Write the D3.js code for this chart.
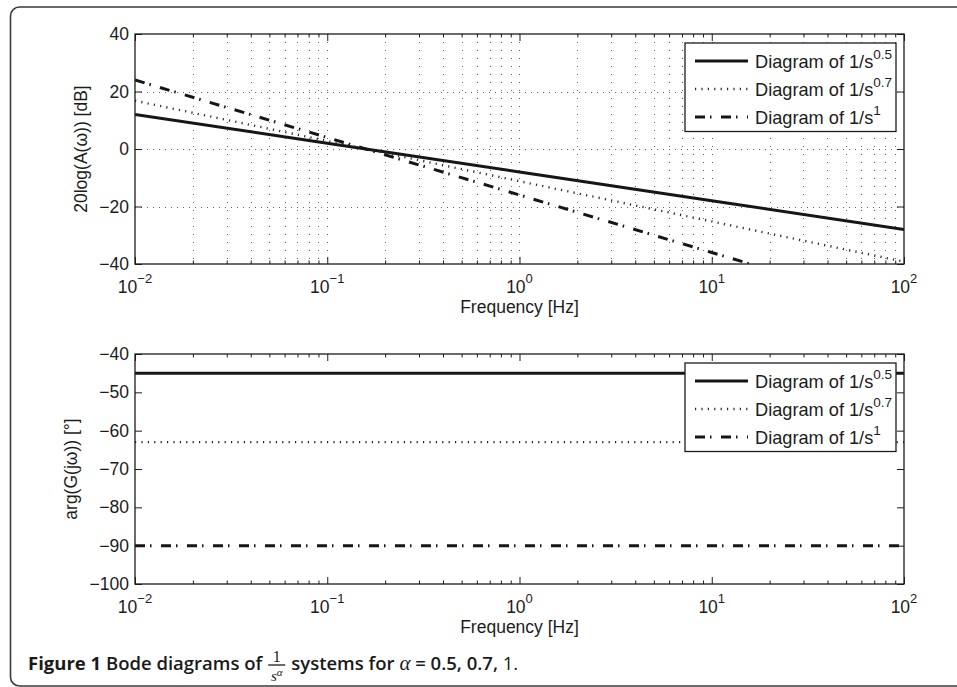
<!DOCTYPE html>
<html>
<head>
<meta charset="utf-8">
<script src="https://cdn.jsdelivr.net/npm/d3@7"></script>
<style>
  html, body { margin: 0; padding: 0; background: #fff; }
  svg { display: block; }
  text { white-space: pre; }
</style>
</head>
<body>
<div id="chart"></div>
<script>
// Frequency samples (Hz), one per decade
const freqHz = [0.01, 0.1, 1, 10, 100];
// Magnitude in dB for 1/s^0.5, 1/s^0.7 and 1/s^1
const magHalf  = [12, 2, -8, -18, -28];
const magSeven = [16.8, 2.8, -11.2, -25.2, -39.2];
const magOne   = [24, 4, -16, -36, -56];
// Phase in degrees (flat over the whole band)
const phaseFreq  = [0.01, 100];
const phaseHalf  = [-45, -45];
const phaseSeven = [-63, -63];
const phaseOne   = [-90, -90];
// Tick values
const xMajor = [0.01, 0.1, 1, 10, 100];
const xExp = ["\u22122", "\u22121", "0", "1", "2"];
const magTicks = [-40, -20, 0, 20, 40];
const phaseTicks = [-100, -90, -80, -70, -60, -50, -40];
const seriesNames = ["0.5", "0.7", "1"];

const W = 957, H = 687;
const svg = d3.select("#chart").append("svg").attr("width", W).attr("height", H);
svg.append("rect").attr("width", W).attr("height", H).attr("fill", "#fff");

// outer rounded frame (open to the right)
svg.append("rect").attr("x", 10.5).attr("y", 7).attr("width", 1000).attr("height", 679)
  .attr("rx", 9).attr("fill", "none").attr("stroke", "#3a3a3a").attr("stroke-width", 1.6);

const FONT = '"Liberation Sans", Arial, Helvetica, sans-serif';
const INK = "#1c1c1c";
const FS = 17.5;
const left = 135, right = 904;

const x = d3.scaleLog().domain([0.01, 100]).range([left, right]);
const xMinor = [];
for (let e = -2; e < 2; e++) for (let k = 2; k <= 9; k++) xMinor.push(k * Math.pow(10, e));

const styles = [
  { width: 3, dash: null, color: "#161616" },
  { width: 2.4, dash: "1.2,5.2", color: "#2a2a2a" },
  { width: 3, dash: "10,5,1.5,9.5", color: "#161616" }
];

function fmt(v) { return v < 0 ? "\u2212" + Math.abs(v) : String(v); }

function panel(cfg) {
  const { top, bottom, yDomain, yTicks, grid, series, xs, legendTop, yLabel, yLabelX } = cfg;
  const y = d3.scaleLinear().domain(yDomain).range([bottom, top]);
  const g = svg.append("g");
  const clipId = "clip" + top;
  svg.append("clipPath").attr("id", clipId).append("rect")
    .attr("x", left).attr("y", top).attr("width", right - left).attr("height", bottom - top);

  if (grid) {
    const gg = g.append("g").attr("stroke", "#666").attr("stroke-width", 1);
    gg.selectAll("line.v").data(xMinor.concat([0.1, 1, 10])).join("line")
      .attr("x1", d => Math.round(x(d)) + 0.5).attr("x2", d => Math.round(x(d)) + 0.5)
      .attr("y1", top).attr("y2", bottom).attr("stroke-dasharray", "1,7");
    gg.selectAll("line.h").data(yTicks.slice(1, -1)).join("line")
      .attr("x1", left).attr("x2", right)
      .attr("y1", d => Math.round(y(d)) + 0.5).attr("y2", d => Math.round(y(d)) + 0.5)
      .attr("stroke-dasharray", "1,5");
  }

  // ticks pointing inward on all four sides
  const tickStyle = sel => { sel.select(".domain").remove(); sel.selectAll("line").attr("stroke", INK); };
  g.append("g").attr("transform", `translate(0,${bottom})`)
    .call(d3.axisBottom(x).tickValues(xMajor).tickSize(-7).tickFormat(""))
    .call(tickStyle);
  g.append("g").attr("transform", `translate(0,${bottom})`)
    .call(d3.axisBottom(x).tickValues(xMinor).tickSize(-3.5).tickFormat(""))
    .call(tickStyle);
  g.append("g").attr("transform", `translate(0,${top})`)
    .call(d3.axisTop(x).tickValues(xMajor).tickSize(-7).tickFormat(""))
    .call(tickStyle);
  g.append("g").attr("transform", `translate(0,${top})`)
    .call(d3.axisTop(x).tickValues(xMinor).tickSize(-3.5).tickFormat(""))
    .call(tickStyle);
  g.append("g").attr("transform", `translate(${left},0)`)
    .call(d3.axisLeft(y).tickValues(yTicks).tickSize(-7).tickPadding(6).tickFormat(fmt))
    .call(tickStyle)
    .call(s => s.selectAll("text").attr("font-size", FS).attr("font-family", FONT).attr("fill", INK));
  g.append("g").attr("transform", `translate(${right},0)`)
    .call(d3.axisRight(y).tickValues(yTicks).tickSize(-7).tickFormat(""))
    .call(tickStyle);

  // x tick labels as powers of ten
  const xl = g.append("g");
  xMajor.forEach((d, i) => {
    const t = xl.append("text").attr("x", x(d)).attr("y", bottom + 29)
      .attr("text-anchor", "middle").attr("font-size", FS).attr("font-family", FONT).attr("fill", INK);
    t.append("tspan").text("10");
    t.append("tspan").attr("dy", -10).attr("font-size", 13).text(xExp[i]);
  });

  g.append("text").attr("x", (left + right) / 2).attr("y", bottom + 49)
    .attr("text-anchor", "middle").attr("font-size", FS).attr("font-family", FONT).attr("fill", INK)
    .text("Frequency [Hz]");
  g.append("text").attr("transform", `translate(${yLabelX},${(top + bottom) / 2}) rotate(-90)`)
    .attr("text-anchor", "middle").attr("font-size", FS).attr("font-family", FONT).attr("fill", INK)
    .text(yLabel);

  // data lines
  const line = d3.line().x((d, i) => x(xs[i])).y(d => y(d));
  const lg = svg.append("g").attr("clip-path", `url(#${clipId})`);
  series.forEach((vals, i) => {
    lg.append("path").datum(vals).attr("d", line).attr("fill", "none")
      .attr("stroke", styles[i].color).attr("stroke-width", styles[i].width)
      .attr("stroke-dasharray", styles[i].dash);
  });

  // frame
  svg.append("rect").attr("x", left).attr("y", top).attr("width", right - left).attr("height", bottom - top)
    .attr("fill", "none").attr("stroke", INK).attr("stroke-width", 1.3);

  // legend
  const L = svg.append("g").attr("transform", `translate(685,${legendTop})`);
  L.append("rect").attr("x", 0).attr("y", 0).attr("width", 211).attr("height", 88.5)
    .attr("fill", "#fff").attr("stroke", INK).attr("stroke-width", 1.3);
  seriesNames.forEach((nm, i) => {
    const ly = 18 + i * 28;
    L.append("line").attr("x1", 10).attr("x2", 63).attr("y1", ly).attr("y2", ly)
      .attr("stroke", styles[i].color).attr("stroke-width", styles[i].width)
      .attr("stroke-dasharray", styles[i].dash);
    const t = L.append("text").attr("x", 70).attr("y", ly + 7)
      .attr("font-size", 18.2).attr("font-family", FONT).attr("fill", INK);
    t.append("tspan").text("Diagram of 1/s");
    t.append("tspan").attr("dy", -9).attr("font-size", 13.5).text(nm);
  });
}

panel({
  top: 34, bottom: 264, yDomain: [-40, 40], yTicks: magTicks, grid: true,
  series: [magHalf, magSeven, magOne], xs: freqHz, legendTop: 43,
  yLabel: "20log(A(\u03c9)) [dB]", yLabelX: 87
});
panel({
  top: 354, bottom: 584, yDomain: [-100, -40], yTicks: phaseTicks, grid: false,
  series: [phaseHalf, phaseSeven, phaseOne], xs: phaseFreq, legendTop: 363,
  yLabel: "arg(G(j\u03c9)) [\u00b0]", yLabelX: 77
});

// caption
const CAP = '"Open Sans", "Noto Sans", sans-serif';
const SERIF = '"Liberation Serif", "DejaVu Serif", serif';
const capY = 670, capFS = 18.5;
const c1 = svg.append("text").attr("x", 28).attr("y", capY).attr("font-family", CAP)
  .attr("font-size", capFS).attr("fill", "#1a1a1a");
c1.append("tspan").attr("font-weight", 700).text("Figure 1");
c1.append("tspan").attr("font-weight", 600).text(" Bode diagrams of");
const fx = 28 + c1.node().getComputedTextLength() + 6;
const fw = 17;
svg.append("text").attr("x", fx + fw / 2).attr("y", capY - 8).attr("text-anchor", "middle")
  .attr("font-family", SERIF).attr("font-size", 16).attr("fill", "#1a1a1a").text("1");
svg.append("line").attr("x1", fx).attr("x2", fx + fw).attr("y1", capY - 5).attr("y2", capY - 5)
  .attr("stroke", "#1a1a1a").attr("stroke-width", 1.3);
const den = svg.append("text").attr("x", fx + fw / 2).attr("y", capY + 11).attr("text-anchor", "middle")
  .attr("font-family", SERIF).attr("font-style", "italic").attr("font-size", 15).attr("fill", "#1a1a1a");
den.append("tspan").text("s");
den.append("tspan").attr("dy", -5).attr("font-size", 11).text("\u03b1");
const c2 = svg.append("text").attr("x", fx + fw + 6).attr("y", capY).attr("font-family", CAP)
  .attr("font-size", capFS).attr("fill", "#1a1a1a");
c2.append("tspan").attr("font-weight", 600).text("systems for ");
c2.append("tspan").attr("font-family", SERIF).attr("font-style", "italic")
  .attr("font-size", 21).text("\u03b1");
c2.append("tspan").attr("font-weight", 600).text(" = 0.5, 0.7, ");
c2.append("tspan").attr("font-weight", 400).text("1.");
</script>
</body>
</html>
